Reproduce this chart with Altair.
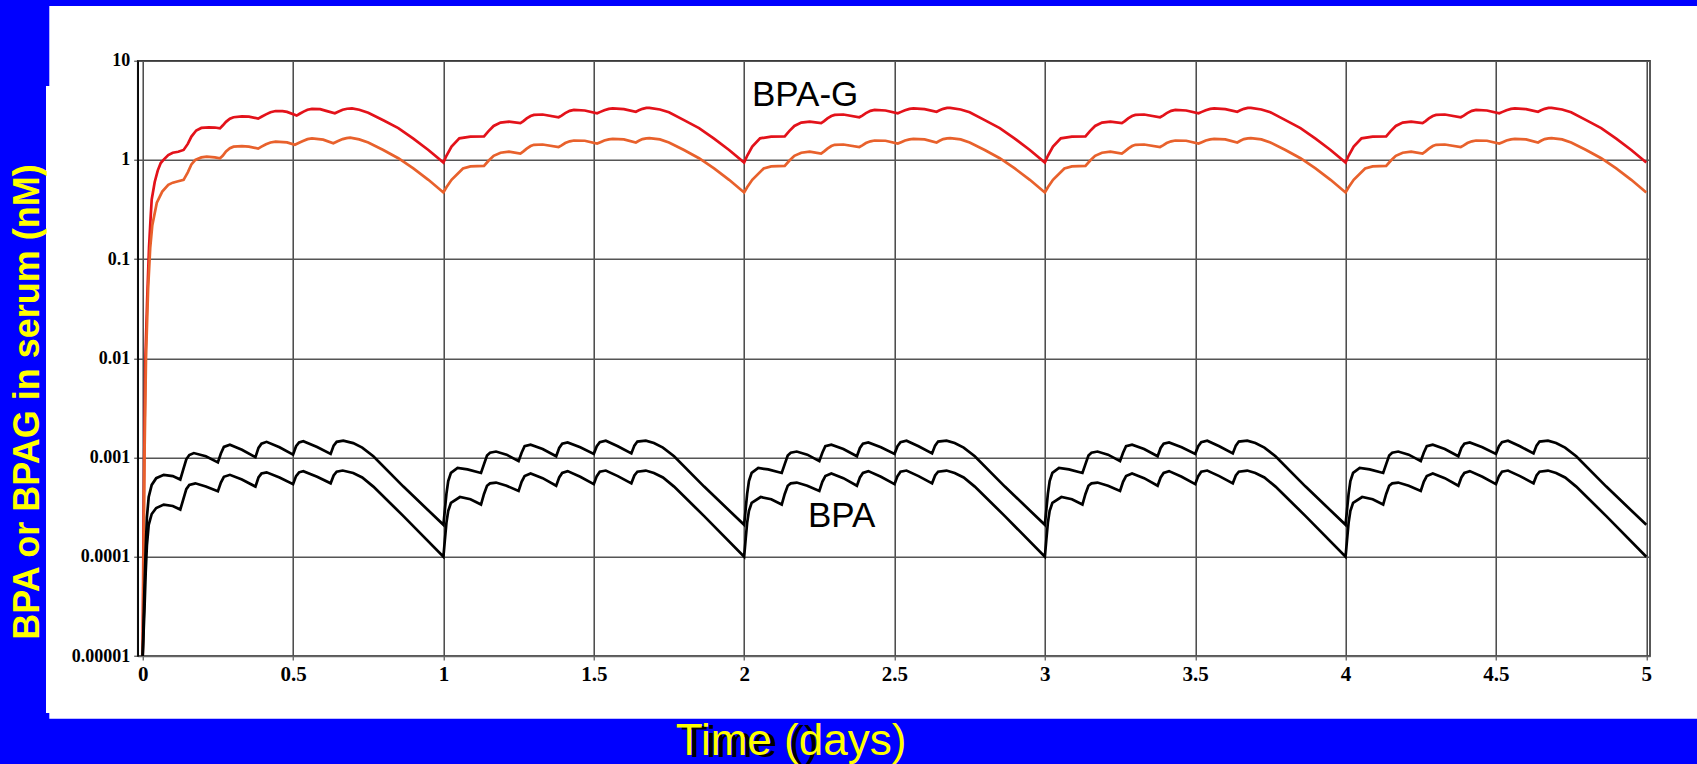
import altair as alt
import pandas as pd

# ---------------- data ----------------
# BPA-G upper curve (red): first day, then a typical later day (relative time)
red_d1_t = [0.000, 0.002, 0.005, 0.009, 0.015, 0.021, 0.026, 0.030, 0.040, 0.050, 0.060, 0.069,
            0.085, 0.100, 0.118, 0.136, 0.150, 0.162, 0.178, 0.195, 0.220, 0.240, 0.257, 0.266,
            0.277, 0.290, 0.302, 0.330, 0.353, 0.384, 0.395, 0.410, 0.425, 0.442, 0.465, 0.480,
            0.512, 0.522, 0.535, 0.548, 0.563, 0.590, 0.610, 0.639, 0.650, 0.665, 0.680, 0.696,
            0.720, 0.750, 0.800, 0.850, 0.900, 0.950, 1.000]
red_d1_v = [1e-5, 1e-4, 1e-3, 1e-2, 0.04, 0.13, 0.25, 0.40, 0.60, 0.78, 0.93, 1.00,
            1.12, 1.18, 1.21, 1.26, 1.45, 1.72, 1.98, 2.10, 2.13, 2.12, 2.08, 2.22,
            2.42, 2.60, 2.69, 2.75, 2.73, 2.61, 2.72, 2.88, 3.02, 3.11, 3.10, 3.05,
            2.80, 2.92, 3.07, 3.20, 3.27, 3.25, 3.12, 2.95, 3.06, 3.20, 3.28, 3.31,
            3.20, 2.99, 2.51, 2.09, 1.64, 1.26, 0.94]
red_day_t = [0.000, 0.010, 0.027, 0.053, 0.090, 0.135, 0.150, 0.167, 0.190, 0.218, 0.256, 0.266,
             0.277, 0.290, 0.301, 0.330, 0.383, 0.393, 0.405, 0.420, 0.434, 0.470, 0.511, 0.522,
             0.535, 0.550, 0.563, 0.600, 0.640, 0.650, 0.662, 0.675, 0.685, 0.720, 0.750, 0.800,
             0.850, 0.900, 0.950, 1.000]
red_day_v = [0.94, 1.10, 1.36, 1.65, 1.72, 1.73, 1.95, 2.20, 2.38, 2.43, 2.35, 2.46,
             2.62, 2.77, 2.84, 2.87, 2.69, 2.80, 2.96, 3.12, 3.19, 3.15, 2.95, 3.05,
             3.17, 3.27, 3.31, 3.25, 3.06, 3.16, 3.27, 3.34, 3.35, 3.22, 3.02, 2.52,
             2.09, 1.64, 1.26, 0.94]

# BPA-G lower curve (orange)
org_d1_t = [0.000, 0.003, 0.006, 0.011, 0.018, 0.025, 0.032, 0.047, 0.065, 0.085, 0.100, 0.118,
            0.136, 0.150, 0.162, 0.175, 0.195, 0.213, 0.240, 0.257, 0.266, 0.277, 0.290, 0.302,
            0.330, 0.353, 0.384, 0.395, 0.410, 0.425, 0.442, 0.480, 0.506, 0.520, 0.535, 0.548,
            0.563, 0.600, 0.634, 0.648, 0.665, 0.678, 0.690, 0.720, 0.750, 0.800, 0.850, 0.900,
            0.950, 1.000]
org_d1_v = [1e-5, 1e-4, 1e-3, 1e-2, 0.05, 0.13, 0.22, 0.37, 0.48, 0.56, 0.59, 0.61,
            0.63, 0.75, 0.90, 1.00, 1.06, 1.08, 1.06, 1.04, 1.10, 1.22, 1.31, 1.36,
            1.38, 1.36, 1.30, 1.36, 1.44, 1.50, 1.53, 1.50, 1.42, 1.49, 1.56, 1.62,
            1.65, 1.60, 1.47, 1.54, 1.62, 1.66, 1.68, 1.61, 1.50, 1.26, 1.04, 0.82,
            0.63, 0.47]
org_day_t = [0.000, 0.010, 0.027, 0.065, 0.090, 0.135, 0.150, 0.167, 0.190, 0.218, 0.256, 0.266,
             0.277, 0.290, 0.301, 0.330, 0.383, 0.393, 0.405, 0.420, 0.434, 0.470, 0.511, 0.522,
             0.535, 0.550, 0.563, 0.600, 0.640, 0.650, 0.662, 0.675, 0.685, 0.720, 0.750, 0.800,
             0.850, 0.900, 0.950, 1.000]
org_day_v = [0.47, 0.53, 0.63, 0.82, 0.86, 0.87, 0.98, 1.10, 1.18, 1.21, 1.16, 1.22,
             1.30, 1.38, 1.42, 1.43, 1.35, 1.40, 1.48, 1.54, 1.57, 1.56, 1.46, 1.51,
             1.57, 1.61, 1.63, 1.61, 1.50, 1.56, 1.62, 1.65, 1.66, 1.61, 1.50, 1.26,
             1.04, 0.82, 0.63, 0.47]

# BPA upper black curve
bhi_d1_t = [0.000, 0.006, 0.010, 0.014, 0.020, 0.030, 0.045, 0.070, 0.100, 0.125, 0.135, 0.145,
            0.155, 0.170, 0.210, 0.250, 0.260, 0.270, 0.290, 0.330, 0.375, 0.385, 0.395, 0.412,
            0.455, 0.500, 0.510, 0.520, 0.534, 0.580, 0.625, 0.635, 0.645, 0.667, 0.700, 0.730,
            0.767, 0.867, 1.000]
bhi_d1_v = [1e-5, 5e-5, 1.2e-4, 2.5e-4, 4.0e-4, 5.3e-4, 6.2e-4, 6.7e-4, 6.5e-4, 6.0e-4, 7.6e-4, 9.6e-4,
            1.06e-3, 1.11e-3, 1.03e-3, 8.95e-4, 1.1e-3, 1.28e-3, 1.35e-3, 1.2e-3, 1.01e-3, 1.25e-3, 1.38e-3, 1.44e-3,
            1.27e-3, 1.07e-3, 1.3e-3, 1.42e-3, 1.46e-3, 1.28e-3, 1.09e-3, 1.32e-3, 1.44e-3, 1.48e-3, 1.40e-3, 1.26e-3,
            1.03e-3, 5.1e-4, 2.1e-4]
bhi_day_t = [0.000, 0.005, 0.010, 0.016, 0.025, 0.047, 0.080, 0.125, 0.135, 0.145, 0.155, 0.175,
             0.210, 0.250, 0.260, 0.270, 0.290, 0.330, 0.375, 0.385, 0.395, 0.413, 0.455, 0.500,
             0.510, 0.520, 0.540, 0.580, 0.625, 0.635, 0.645, 0.673, 0.700, 0.730, 0.767, 0.867, 1.000]
bhi_day_v = [2.1e-4, 3.0e-4, 4.3e-4, 5.8e-4, 7.0e-4, 7.85e-4, 7.6e-4, 7.0e-4, 8.6e-4, 1.05e-3, 1.12e-3, 1.15e-3,
             1.07e-3, 9.2e-4, 1.12e-3, 1.3e-3, 1.35e-3, 1.22e-3, 1.03e-3, 1.25e-3, 1.38e-3, 1.42e-3, 1.27e-3, 1.09e-3,
             1.3e-3, 1.43e-3, 1.48e-3, 1.3e-3, 1.1e-3, 1.32e-3, 1.45e-3, 1.48e-3, 1.40e-3, 1.26e-3, 1.03e-3, 5.1e-4, 2.1e-4]

# BPA lower black curve
blo_d1_t = [0.000, 0.006, 0.010, 0.014, 0.020, 0.030, 0.045, 0.070, 0.100, 0.125, 0.135, 0.145,
            0.155, 0.175, 0.210, 0.250, 0.260, 0.270, 0.290, 0.330, 0.375, 0.385, 0.395, 0.412,
            0.455, 0.500, 0.510, 0.520, 0.534, 0.580, 0.625, 0.635, 0.645, 0.665, 0.700, 0.730,
            0.767, 0.867, 1.000]
blo_d1_v = [1e-5, 3e-5, 7e-5, 1.3e-4, 2.1e-4, 2.7e-4, 3.1e-4, 3.36e-4, 3.25e-4, 2.99e-4, 3.8e-4, 4.8e-4,
            5.3e-4, 5.5e-4, 5.1e-4, 4.57e-4, 5.6e-4, 6.4e-4, 6.7e-4, 6.0e-4, 5.1e-4, 6.3e-4, 6.9e-4, 7.1e-4,
            6.3e-4, 5.4e-4, 6.5e-4, 7.1e-4, 7.3e-4, 6.4e-4, 5.5e-4, 6.6e-4, 7.2e-4, 7.4e-4, 7.0e-4, 6.3e-4,
            5.1e-4, 2.57e-4, 1.0e-4]
blo_day_t = [0.000, 0.005, 0.010, 0.016, 0.025, 0.055, 0.090, 0.125, 0.135, 0.145, 0.155, 0.175,
             0.210, 0.250, 0.260, 0.270, 0.290, 0.330, 0.375, 0.385, 0.395, 0.413, 0.455, 0.500,
             0.510, 0.520, 0.540, 0.580, 0.625, 0.635, 0.645, 0.673, 0.700, 0.730, 0.767, 0.867, 1.000]
blo_day_v = [1.0e-4, 1.5e-4, 2.2e-4, 2.9e-4, 3.5e-4, 4.0e-4, 3.8e-4, 3.36e-4, 4.3e-4, 5.2e-4, 5.5e-4, 5.6e-4,
             5.2e-4, 4.6e-4, 5.7e-4, 6.5e-4, 6.9e-4, 6.2e-4, 5.2e-4, 6.3e-4, 7.0e-4, 7.3e-4, 6.4e-4, 5.4e-4,
             6.5e-4, 7.2e-4, 7.4e-4, 6.5e-4, 5.5e-4, 6.6e-4, 7.2e-4, 7.4e-4, 7.0e-4, 6.3e-4, 5.1e-4, 2.57e-4, 1.0e-4]

series_names = ["BPA-G high", "BPA-G low", "BPA high", "BPA low"]
series_colors = ["#E3121A", "#E8612C", "#000000", "#000000"]
x_ticks = [0, 0.5, 1, 1.5, 2, 2.5, 3, 3.5, 4, 4.5, 5]
y_ticks = [1e-5, 1e-4, 1e-3, 1e-2, 1e-1, 1, 10]
n_days = 5


def build(name, d1_t, d1_v, st_t, st_v):
    rows = [(t, v, name) for t, v in zip(d1_t, d1_v)]
    for day in range(1, n_days):
        rows += [(day + t, v, name) for t, v in zip(st_t, st_v)]
    return rows


rows = (build(series_names[0], red_d1_t, red_d1_v, red_day_t, red_day_v)
        + build(series_names[1], org_d1_t, org_d1_v, org_day_t, org_day_v)
        + build(series_names[2], bhi_d1_t, bhi_d1_v, bhi_day_t, bhi_day_v)
        + build(series_names[3], blo_d1_t, blo_d1_v, blo_day_t, blo_day_v))
df = pd.DataFrame(rows, columns=["t", "v", "series"])

# ---------------- layout ----------------
W, H = 1697, 764
PL, PT = 137.7, 60.7
PW, PH = 1512.3, 595.3
BLUE = "#0000FF"
YELLOW = "#FFFF00"
one = pd.DataFrame({"a": [0]})


def blue_rect(x0, x1, y0, y1):
    return alt.Chart(one).mark_rect(color=BLUE).encode(
        x=alt.value(x0 - PL), x2=alt.value(x1 - PL),
        y=alt.value(y0 - PT), y2=alt.value(y1 - PT))


bg = (blue_rect(0, W, 0, 6) + blue_rect(0, 49.3, 0, 86) + blue_rect(0, 46, 86, 713)
      + blue_rect(0, 49.3, 713, H) + blue_rect(0, W, 718.7, H))

lines = alt.Chart(df).mark_line(strokeWidth=2.7, clip=True).encode(
    x=alt.X("t:Q",
            scale=alt.Scale(domain=[-0.0166, 5.0123], nice=False, zero=False),
            axis=alt.Axis(values=x_ticks, format="~g", title=None, grid=True,
                          gridColor="#3a3a3a", gridWidth=1.4, domainColor="#666666",
                          domainWidth=1.5, tickColor="#333333", tickSize=4,
                          labelFont="Liberation Serif", labelFontWeight="bold",
                          labelFontSize=21, labelColor="#000000", labelPadding=3,
                          labelFlush=False)),
    y=alt.Y("v:Q",
            scale=alt.Scale(type="log", domain=[1e-5, 10], nice=False),
            axis=alt.Axis(values=y_ticks, format="~f", title=None, grid=True,
                          gridColor="#555555", gridWidth=1.4, domainColor="#000000",
                          domainWidth=1.5, tickColor="#333333", tickSize=4,
                          labelFont="Liberation Serif", labelFontWeight="bold",
                          labelFontSize=18, labelColor="#000000", labelPadding=4)),
    color=alt.Color("series:N", scale=alt.Scale(domain=series_names, range=series_colors),
                    legend=None),
    detail="series:N",
)


def text(label, x, y, size, color, align="left", baseline="alphabetic", angle=0, weight="normal"):
    return alt.Chart(one).mark_text(
        text=label, align=align, baseline=baseline, angle=angle, font="Liberation Sans",
        fontSize=size, fontWeight=weight, color=color).encode(
        x=alt.value(x - PL), y=alt.value(y - PT))


labels = (text("BPA-G", 752, 106, 35, "#000000")
          + text("BPA", 808, 527, 35, "#000000"))

titles = (text("Time ()", 681, 757, 44, "#000000")
          + text("Time (days)", 791, 755, 44, YELLOW, align="center")
          + text("BPA or BPAG in serum (nM)", 28, 402, 36, YELLOW, align="center",
                 baseline="middle", angle=270, weight="bold"))

chart = (bg + lines + labels + titles).properties(
    width=PW, height=PH,
    autosize=alt.AutoSizeParams(type="none"),
    padding={"left": PL, "top": PT, "right": W - PL - PW, "bottom": H - PT - PH},
    background="#FFFFFF",
).configure_view(stroke="#222222", strokeWidth=1.5)

chart.save("out.html", embed_options={"renderer": "svg", "actions": False})
